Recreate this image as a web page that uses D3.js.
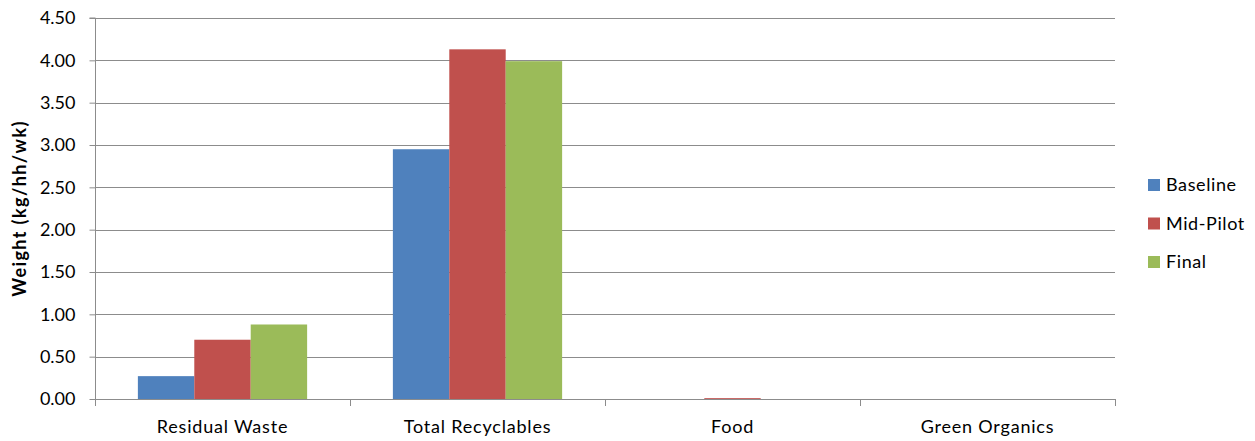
<!DOCTYPE html>
<html><head><meta charset="utf-8">
<script src="https://cdn.jsdelivr.net/npm/d3@7"></script>
<style>body{margin:0;background:#fff;font-family:Lato,"Open Sans",sans-serif;}</style>
</head><body><svg id="c" width="1255" height="441"></svg>
<script>
const categories = ["Residual Waste","Total Recyclables","Food","Green Organics"];
const seriesNames = ["Baseline","Mid-Pilot","Final"];
const baseline = [0.27, 2.95, 0.00, 0.00];
const midPilot = [0.70, 4.13, 0.01, 0.00];
const finalVals = [0.88, 3.99, 0.00, 0.00];
const yTicks = [0,0.5,1,1.5,2,2.5,3,3.5,4,4.5];
const colors = ["#4F81BD","#C0504D","#9BBB59"];
const seriesVals = [baseline, midPilot, finalVals];

const FONT = "Lato, Open Sans, sans-serif";
const svg = d3.select("#c").attr("font-family", FONT);
const m = {l:95, r:1115, t:18, b:399};
const x0 = d3.scaleBand().domain(categories).range([m.l,m.r]).paddingInner(0).paddingOuter(0);
const x1 = d3.scaleBand().domain(seriesNames).range([0,x0.bandwidth()]).paddingOuter(0.76).paddingInner(0);
const y = d3.scaleLinear().domain([0,4.5]).range([m.b,m.t]);

// gridlines
svg.append("g").selectAll("line").data(yTicks.filter(d=>d>0)).join("line")
  .attr("x1",m.l).attr("x2",m.r).attr("y1",d=>Math.round(y(d))+0.5).attr("y2",d=>Math.round(y(d))+0.5)
  .attr("stroke","#8c8c8c").attr("stroke-width",1);

// bars
const groups = svg.append("g").selectAll("g").data(categories).join("g")
  .attr("transform",c=>`translate(${x0(c)},0)`);
groups.selectAll("rect").data((c,i)=>seriesNames.map((s,j)=>({s,v:seriesVals[j][i],j})))
  .join("rect")
  .attr("x",d=>x1(d.s)).attr("width",x1.bandwidth())
  .attr("y",d=>y(d.v)).attr("height",d=>y(0)-y(d.v))
  .attr("fill",d=>colors[d.j]);

// y axis
const ya = d3.axisLeft(y).tickValues(yTicks).tickFormat(d3.format(".2f")).tickSize(6).tickPadding(14);
const yg = svg.append("g").attr("transform",`translate(${m.l+0.5},0)`).call(ya);
yg.select(".domain").attr("stroke","#8c8c8c").attr("d",`M-6,${y(4.5)}H0V${y(0)}`);
yg.selectAll(".tick line").attr("stroke","#8c8c8c");
yg.selectAll(".tick text").attr("font-size","18px").attr("fill","#000").attr("font-family",FONT);

// x axis
const xa = d3.axisBottom(x0).tickSize(0).tickPadding(21);
const xg = svg.append("g").attr("transform",`translate(0,${m.b+0.5})`).call(xa);
xg.select(".domain").attr("stroke","#8c8c8c").attr("d",`M${m.l},0H${m.r}`);
xg.selectAll(".tick text").attr("font-size","18px").attr("letter-spacing","0.8px").attr("fill","#000").attr("font-family",FONT);
const bounds = categories.map(c=>x0(c)).concat([m.r]);
svg.append("g").selectAll("line").data(bounds).join("line")
  .attr("x1",d=>Math.round(d)+0.5).attr("x2",d=>Math.round(d)+0.5)
  .attr("y1",m.b).attr("y2",m.b+7).attr("stroke","#8c8c8c");

// y title
svg.append("text").attr("transform",`translate(20,${(m.t+m.b)/2}) rotate(-90)`)
  .attr("text-anchor","middle").attr("dy","0.35em").attr("font-size","18px").attr("font-weight","bold")
  .attr("letter-spacing","1.4px")
  .text("Weight (kg/hh/wk)");

// legend
const lg = svg.append("g").selectAll("g").data(seriesNames).join("g")
  .attr("transform",(d,i)=>`translate(1148,${185+i*38.5})`);
lg.append("rect").attr("x",0).attr("y",-6).attr("width",12).attr("height",12).attr("fill",(d,i)=>colors[i]);
lg.append("text").attr("x",18).attr("y",0).attr("dy","0.35em").attr("font-size","18px")
  .attr("letter-spacing","0.6px").text(d=>d);
</script></body></html>
